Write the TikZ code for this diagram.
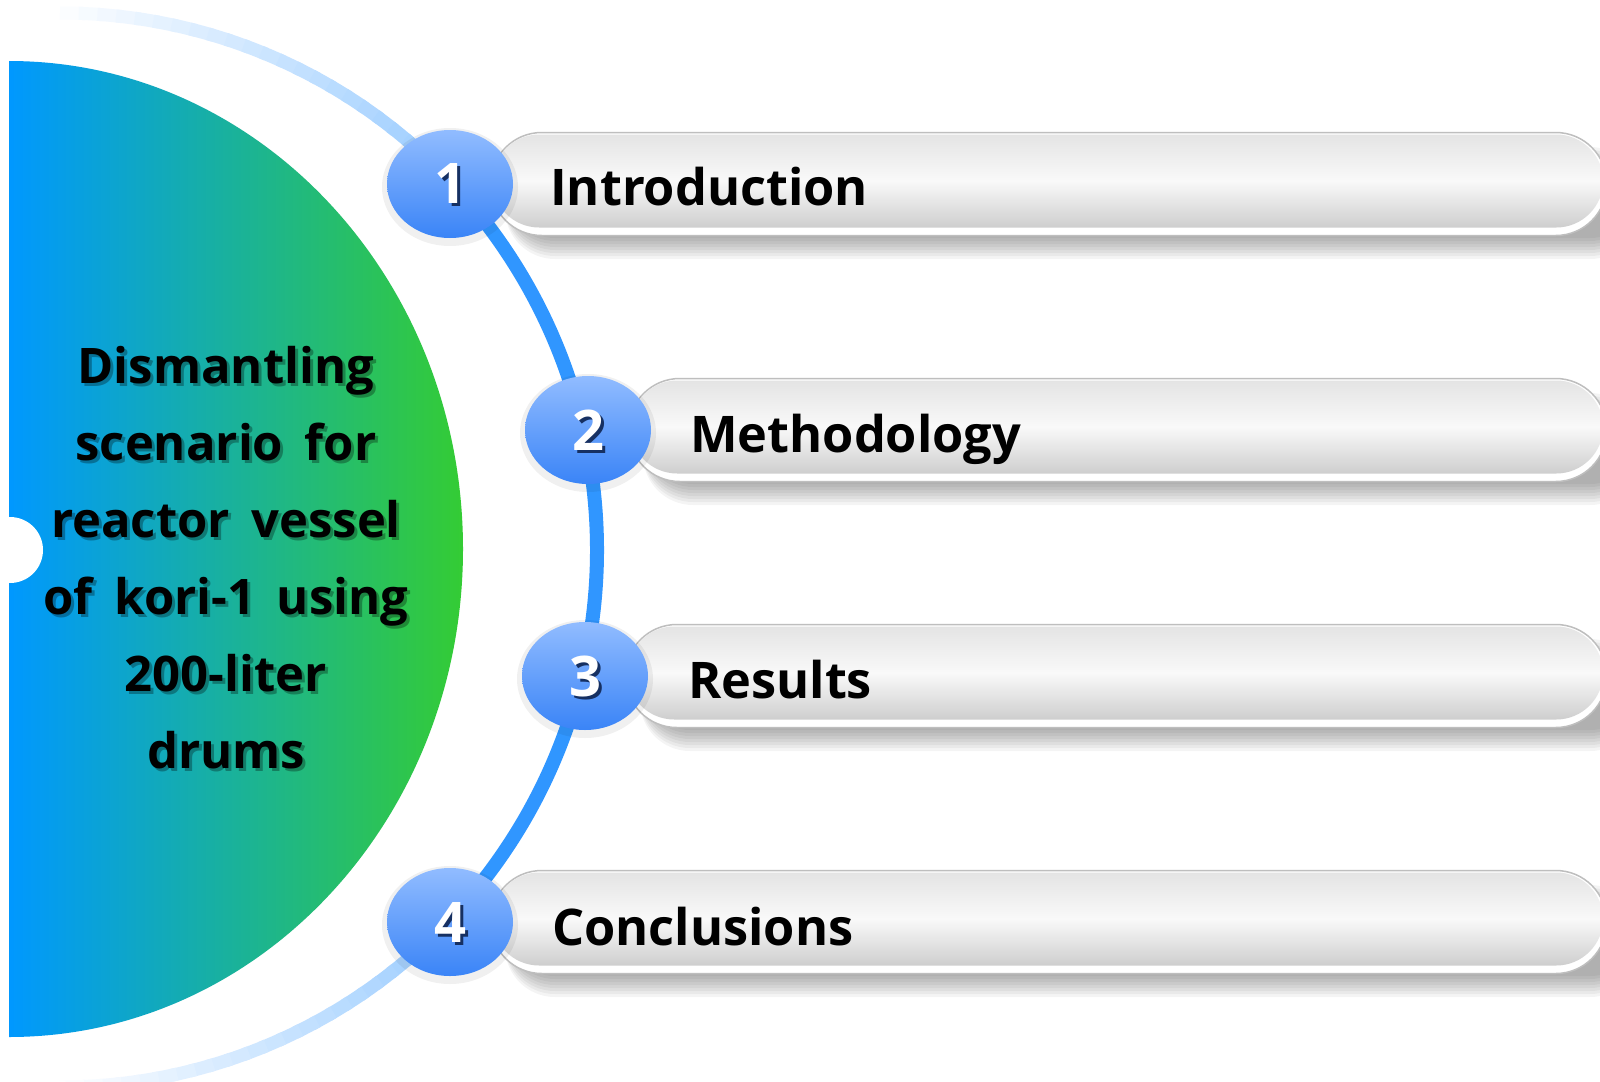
\documentclass[tikz,border=0pt]{standalone}
\usepackage{fontspec}
\setmainfont{Open Sans}
\newfontfamily\titlefont{Open Sans}[WordSpace=1.7]
\usetikzlibrary{shapes.geometric,calc}
\definecolor{gblue}{RGB}{0,152,255}
\definecolor{ggreen}{RGB}{52,204,52}
\definecolor{arcblue}{RGB}{48,150,255}
\definecolor{balltop}{RGB}{145,188,255}
\definecolor{ballbot}{RGB}{58,132,247}
\definecolor{numshadow}{RGB}{22,48,98}
\definecolor{pillline}{RGB}{190,190,190}
\definecolor{pilltop}{RGB}{228,228,228}
\definecolor{pillmid}{RGB}{249,249,249}
\definecolor{pillbot}{RGB}{206,206,206}
\tikzset{
  ball/.style={ellipse, minimum width=126, minimum height=108, inner sep=0pt,
    top color=balltop, bottom color=ballbot},
  ballglow/.style={ellipse, minimum width=136, minimum height=118, inner sep=0pt,
    fill=black, opacity=0.06},
  numtxt/.style={font=\fontsize{56}{60}\selectfont\bfseries, text=white, inner sep=0pt},
  numshd/.style={font=\fontsize{56}{60}\selectfont\bfseries, text=numshadow, inner sep=0pt},
  pillout/.style={rectangle, rounded corners=51pt, minimum height=103, inner sep=0pt,
    fill=white, draw=pillline, line width=1.5pt, anchor=west},
  pillin/.style={rectangle, rounded corners=47pt, minimum height=93, inner sep=0pt,
    top color=pilltop, bottom color=pillbot, middle color=pillmid, anchor=west},
  pillshadow/.style={fill=black, opacity=0.045, rounded corners=50pt},
  boxtxt/.style={font=\fontsize{50.5}{60}\selectfont\bfseries, anchor=base west, inner sep=0pt},
  lefttxt/.style={align=center, font=\titlefont\fontsize{49}{77}\selectfont\bfseries, inner sep=0pt},
  arcline/.style={line width=14pt, draw=arcblue},
}
\begin{document}
\begin{tikzpicture}[x=1pt,y=-1pt]
\useasboundingbox (0,0) rectangle (1600,1081);
\fill[white] (0,0) rectangle (1600,1081);

% gradient half-ellipse
\shade[left color=gblue, right color=ggreen]
  (9,61) arc[start angle=-90, end angle=90, x radius=454, y radius=488] -- cycle;
\fill[white] (10,550) circle (33);

% big arc
\coordinate (O) at (60,550);
\draw[arcline] ($(O)+(-46:537)$) arc[start angle=-46, end angle=46, radius=537];
\foreach \a [evaluate=\a as \p using {max(0,(\a+92)*1.05)}] in {-92,-90,...,-48}
  \draw[line width=13pt, draw=arcblue!\p!white] ($(O)+(\a:537)$) arc[start angle=\a, end angle=\a+2.6, radius=537];
\foreach \a [evaluate=\a as \p using {max(0,(92-\a)*1.05)}] in {48,50,...,92}
  \draw[line width=13pt, draw=arcblue!\p!white] ($(O)+(\a:537)$) arc[start angle=\a, end angle=\a-2.6, radius=537];

% pills
\foreach \cx/\cy/\n in {450/184/1, 588/430/2, 585/676/3, 450/922/4}{
  \foreach \k in {1,...,8}
    \fill[pillshadow] (\cx+55,\cy-40+\k*3) rectangle (1640,\cy+51+\k*3);
  \pgfmathsetmacro{\w}{1606-\cx-40}
  \node[pillout, minimum width=\w] (pill\n) at (\cx+40,\cy) {};
  \pgfmathsetmacro{\wi}{1603-\cx-42}
  \node[pillin, minimum width=\wi] (pillin\n) at (\cx+42,\cy-3) {};
}

% balls
\foreach \cx/\cy/\n in {450/184/1, 588/430/2, 585/676/3, 450/922/4}{
  \node[ballglow] (glow\n) at (\cx,\cy+3) {};
  \node[ball] (ball\n) at (\cx,\cy) {};
  \node[numshd] (nums\n) at (\cx+3,\cy+3) {\n};
  \node[numtxt] (num\n) at (\cx,\cy) {\n};
}

% labels
\node[boxtxt] (t1) at (550,205) {Introduction};
\node[boxtxt] (t2) at (690,452) {Methodology};
\node[boxtxt] (t3) at (688,698) {Results};
\node[boxtxt] (t4) at (552,945) {Conclusions};

% title with soft shadow
\node[lefttxt, text=black, opacity=0.3] (titleshd) at (229,561) {Dismantling\\scenario for\\reactor vessel\\of kori-1 using\\200-liter\\drums};
\node[lefttxt] (title) at (226,558) {Dismantling\\scenario for\\reactor vessel\\of kori-1 using\\200-liter\\drums};
\end{tikzpicture}
\end{document}
